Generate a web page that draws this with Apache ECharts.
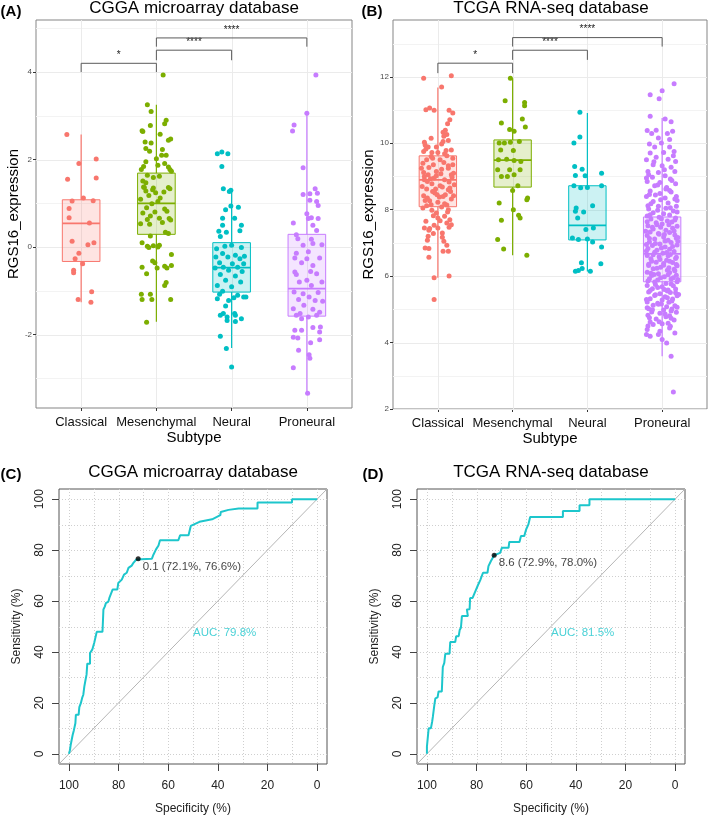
<!DOCTYPE html>
<html>
<head>
<meta charset="utf-8">
<script src="https://cdn.jsdelivr.net/npm/echarts@6/dist/echarts.min.js"></script>
<style>
  html, body { margin: 0; background: #fff; }
  #main { width: 709px; height: 815px; }
</style>
</head>
<body>
<div id="main"></div>
<script>
var FONT = '"Liberation Sans", Arial, sans-serif';

var subtypes = ['Classical', 'Mesenchymal', 'Neural', 'Proneural'];
var subtypeColors = ['#F8766D', '#7CAE00', '#00BFC4', '#C77CFF'];

// box stats per subtype: [lower whisker, Q1, median, Q3, upper whisker]
var boxCGGA = [
  [-1.26, -0.33, 0.54, 1.08, 2.57],
  [-1.71, 0.29, 1.00, 1.69, 3.25],
  [-2.31, -1.03, -0.47, 0.10, 1.33],
  [-3.34, -1.58, -0.95, 0.29, 3.05]
];
var boxTCGA = [
  [5.95, 8.09, 8.90, 9.62, 11.68],
  [6.63, 8.68, 9.49, 10.10, 11.96],
  [6.14, 7.09, 7.53, 8.72, 10.91],
  [3.59, 5.83, 6.67, 7.78, 10.76]
];

// jittered points: [offset from category, RGS16 expression]
var cggaClassical = [
  [-0.19,2.57],[-0.03,1.91],[0.20,2.01],[-0.18,1.55],[0.20,1.58],
  [-0.12,1.05],[0.03,1.12],[0.16,1.06],[-0.16,0.88],[-0.16,0.67],[0.11,0.55],
  [-0.12,0.13],[0.09,0.05],[0.17,0.10],[-0.03,-0.14],[-0.08,-0.27],[0.02,-0.38],
  [-0.10,-0.53],[-0.10,-0.59],[0.14,-1.02],[-0.04,-1.20],[0.13,-1.26]
];
var cggaMesenchymal = [
  [0.09,3.93],[-0.12,3.25],[-0.07,3.10],[0.13,2.90],[0.11,2.82],[-0.08,2.78],
  [-0.19,2.66],[-0.18,2.64],[0.05,2.58],[0.19,2.47],[0.16,2.44],[-0.15,2.40],
  [-0.07,2.38],[-0.14,2.25],[-0.09,2.19],[0.08,2.23],[0.07,2.10],[0.13,2.10],
  [0.00,2.02],[-0.14,1.95],[0.11,1.91],[-0.17,1.84],[0.02,1.87],[0.16,1.83],
  [0.18,1.77],[-0.20,1.77],[0.20,1.73],[-0.12,1.64],[-0.04,1.59],[0.04,1.62],
  [-0.18,1.51],[-0.14,1.47],[0.16,1.36],[-0.04,1.35],[-0.16,1.36],
  [-0.17,1.37],[-0.05,1.31],[0.18,1.33],[-0.14,1.28],[-0.01,1.24],[0.10,1.26],
  [-0.10,1.18],[0.05,1.12],[-0.21,1.09],[0.02,1.04],[-0.06,0.99],[-0.13,0.90],
  [0.11,0.87],[0.14,0.82],[-0.02,0.80],[-0.18,0.78],[-0.08,0.71],[0.17,0.65],
  [-0.12,0.63],[0.04,0.66],[0.19,0.62],[-0.09,0.52],[0.08,0.56],[-0.21,0.53],
  [0.12,0.34],[0.16,0.31],[-0.08,0.25],[-0.19,0.10],[-0.12,0.02],[0.02,0.00],
  [-0.04,0.03],[0.04,0.04],[-0.10,-0.01],[0.20,-0.17],[-0.05,-0.32],[-0.02,-0.36],
  [-0.19,-0.46],[0.11,-0.44],[0.14,-0.48],[0.20,-0.42],[0.01,-0.48],[-0.13,-0.61],
  [0.13,-0.81],[0.11,-0.88],[-0.20,-1.08],[-0.08,-1.08],[0.19,-1.20],[-0.19,-1.20],
  [-0.06,-1.20],[-0.13,-1.72]
];
var cggaNeural = [
  [-0.19,2.13],[-0.13,2.17],[-0.05,2.13],[-0.13,1.84],[-0.11,1.33],[-0.01,1.30],
  [-0.03,1.27],[-0.08,0.85],[-0.01,0.94],[0.09,0.91],[-0.12,0.66],[0.04,0.66],
  [-0.12,0.50],[0.13,0.50],[-0.17,0.36],[-0.07,0.34],[0.11,0.37],[-0.15,0.24],
  [-0.09,0.02],[0.00,0.04],[0.13,-0.01],[-0.20,-0.04],[-0.12,-0.15],[0.05,-0.19],
  [0.17,-0.21],[-0.21,-0.23],[-0.05,-0.23],[0.11,-0.27],[-0.16,-0.36],[0.01,-0.38],
  [0.16,-0.38],[-0.11,-0.46],[0.08,-0.46],[-0.22,-0.48],[-0.04,-0.53],[0.14,-0.56],
  [-0.15,-0.63],[0.05,-0.66],[-0.08,-0.76],[0.12,-0.80],[-0.19,-0.88],[0.00,-0.91],
  [-0.12,-1.01],[0.08,-1.10],[0.16,-1.14],[-0.19,-1.18],[-0.04,-1.22],[-0.16,-1.08],
  [0.03,-1.16],[0.19,-1.14],[-0.08,-1.35],[-0.11,-1.52],[0.04,-1.52],[-0.15,-1.56],
  [-0.06,-1.60],[0.05,-1.56],[0.13,-1.64],[-0.06,-1.68],[0.05,-1.70],[-0.15,-2.04],
  [-0.07,-2.32],[0.00,-2.74]
];
var cggaProneural = [
  [0.12,3.93],[0.00,3.06],[-0.17,2.79],[-0.19,2.65],[-0.05,1.81],[0.11,1.33],
  [-0.05,1.20],[0.04,1.22],[0.14,1.23],[0.13,1.04],[0.15,0.95],[0.04,1.07],
  [0.00,0.76],[0.06,0.67],[0.15,0.65],[0.02,0.65],[-0.18,0.55],[0.08,0.50],
  [0.13,0.38],[-0.14,0.28],[-0.12,0.19],[0.06,0.18],[0.08,0.08],[-0.05,0.04],
  [0.20,0.05],[0.02,-0.11],[-0.14,-0.14],[0.17,-0.25],[-0.16,-0.25],[0.00,-0.27],
  [-0.07,-0.36],[0.08,-0.42],[0.05,-0.56],[-0.16,-0.57],[-0.14,-0.63],[0.13,-0.61],
  [0.00,-0.76],[0.20,-0.80],[-0.10,-0.80],[0.06,-0.88],[-0.17,-1.03],[0.15,-1.04],
  [-0.05,-1.07],[0.03,-1.14],[-0.11,-1.20],[0.11,-1.22],[0.21,-1.24],[-0.04,-1.33],
  [-0.18,-1.41],[0.08,-1.42],[0.17,-1.49],[-0.09,-1.52],[-0.14,-1.56],[0.02,-1.60],
  [-0.07,-1.64],[0.13,-1.56],[0.08,-1.84],[0.18,-1.83],[-0.16,-1.90],[-0.07,-1.90],
  [0.17,-1.94],[-0.12,-2.08],[0.17,-2.12],[-0.18,-2.06],[0.05,-2.19],[-0.11,-2.36],
  [0.03,-2.46],[0.04,-2.54],[-0.18,-2.76],[0.01,-3.34]
];

var tcgaClassical = [
  [-0.19,11.96],[0.18,12.03],[0.05,11.69],[-0.16,11.01],[-0.11,11.06],[-0.05,10.99],
  [0.15,10.99],[0.20,10.91],[0.13,10.59],[0.16,10.71],[0.10,10.39],[0.07,10.33],
  [0.12,10.26],[0.08,10.21],[-0.18,10.03],[-0.09,10.15],[0.14,10.08],[-0.13,9.89],
  [-0.02,9.89],[0.05,9.98],[0.18,9.80],[-0.19,9.75],[-0.08,9.72],[0.09,9.68],
  [-0.15,9.50],[0.03,9.50],[0.20,9.55],[-0.06,9.35],[0.14,9.32],[-0.22,9.25],
  [0.05,9.22],[-0.13,9.05],[-0.02,9.02],[0.18,9.05],[-0.18,8.90],[0.09,8.90],
  [-0.08,8.78],[0.22,8.75],[0.03,8.72],[-0.15,8.62],[0.14,8.60],[-0.04,8.50],
  [-0.19,8.42],[0.07,8.40],[0.18,8.32],[-0.11,8.27],[0.00,8.22],[-0.15,8.12],
  [0.12,8.14],[0.05,8.08],[-0.08,7.98],[0.14,8.00],[-0.02,7.90],[0.09,7.80],
  [0.16,7.70],[-0.16,7.65],[0.03,7.67],[-0.05,7.53],[0.12,7.60],[-0.18,7.45],
  [-0.11,7.43],[0.00,7.45],[0.15,7.47],[-0.13,7.20],[0.06,7.17],[-0.06,7.28],
  [-0.14,7.08],[0.08,7.05],[0.12,6.93],[-0.17,6.85],[-0.12,6.83],[0.07,6.75],
  [0.14,6.75],[-0.12,6.57],[-0.05,5.95],[0.15,6.00],[-0.05,5.30],
  [-0.20,9.40],[0.21,9.10],[-0.14,8.85],[0.10,8.45],[-0.02,9.15],[0.17,8.55],
  [-0.09,9.60],[0.06,8.68],[-0.17,8.28],[0.12,9.62],[-0.05,8.95],[0.19,8.98],
  [-0.21,8.70],[0.02,8.38],[-0.12,9.27],[0.08,9.42],[-0.07,8.55],[0.15,8.83],
  [0.00,9.72],[-0.18,9.00],
  [-0.16,9.83],[0.11,9.78],[-0.07,9.55],[0.20,9.35],[-0.19,9.12],[0.04,9.08],
  [-0.10,8.93],[0.16,8.65],[-0.03,8.62],[0.21,8.42],[-0.14,8.35],[0.09,8.18],
  [-0.20,8.05],[0.13,7.93],[-0.06,7.82],[0.18,7.55],[-0.12,7.38],[0.06,7.30],
  [-0.17,9.95],[0.07,10.05],[-0.01,8.45],[0.14,9.25],[-0.09,8.15],[0.00,7.75]
];
var tcgaMesenchymal = [
  [-0.03,11.96],[-0.10,11.28],[0.16,11.23],[0.16,11.13],[-0.15,10.61],[0.13,10.73],
  [0.17,10.49],[-0.04,10.41],[0.02,10.36],[-0.18,10.01],[-0.11,10.01],[-0.03,10.03],
  [0.09,10.05],[-0.16,9.80],[0.01,9.78],[-0.19,9.50],[-0.08,9.52],[0.02,9.48],
  [0.11,9.45],[-0.20,9.20],[-0.04,9.20],[0.10,9.20],[-0.15,9.00],[-0.07,9.00],
  [0.02,9.05],[0.07,8.72],[0.00,8.58],[0.20,8.35],[-0.18,8.20],[0.19,8.30],
  [0.01,8.00],[0.08,7.83],[0.10,7.75],[-0.15,7.68],[-0.20,7.10],[-0.12,6.82],
  [0.19,6.63]
];
var tcgaNeural = [
  [-0.10,10.93],[-0.10,10.19],[-0.18,10.01],[-0.17,9.30],[-0.07,9.22],[-0.16,9.03],
  [-0.03,9.02],[0.19,9.10],[-0.18,8.72],[-0.09,8.66],[0.00,8.67],[0.19,8.72],
  [-0.15,8.05],[0.07,8.12],[-0.16,7.95],[-0.05,7.93],[-0.13,7.75],[-0.02,7.40],
  [0.08,7.45],[-0.20,7.15],[-0.12,7.10],[0.00,7.12],[0.07,7.03],[0.19,6.88],
  [-0.08,6.40],[0.18,6.37],[-0.16,6.15],[-0.12,6.17],[-0.07,6.23],[0.04,6.15]
];
var tcgaProneural = [
  [0.16,11.79],[-0.16,11.46],[0.00,11.58],[-0.04,11.34],[-0.16,10.81],[0.04,10.73],
  [0.12,10.65],[-0.20,10.38],[-0.08,10.39],[-0.14,10.29],[0.07,10.29],[0.14,10.36],
  [-0.05,10.16],[0.10,10.11],[-0.17,9.98],[-0.01,10.01],[-0.10,9.89],[0.10,9.89],
  [-0.16,9.71],[0.02,9.72],[0.16,9.75],[-0.08,9.58],[-0.21,9.50],[0.08,9.52],
  [0.18,9.45],[-0.12,9.35],[0.00,9.32],[0.12,9.28],[-0.19,9.15],[-0.05,9.12],
  [0.17,9.15],[0.04,9.02],[-0.13,8.98],[0.11,8.92],[-0.20,8.85],[-0.03,8.82],
  [0.18,8.78],[-0.10,8.72],[0.06,8.67],[-0.16,8.56],[0.12,8.53],[-0.03,8.49],
  [-0.21,8.40],[0.04,8.35],[0.17,8.32],[-0.12,8.25],[0.08,8.20],[-0.19,8.12],
  [-0.05,8.10],[0.19,8.10],
  [-0.18,8.02],[-0.06,7.98],[0.05,8.04],[0.15,7.96],[-0.12,7.91],[0.02,7.88],[0.20,7.93],
  [-0.20,7.81],[-0.04,7.77],[0.10,7.84],[-0.15,7.72],[0.07,7.66],[0.17,7.69],
  [-0.08,7.61],[0.00,7.57],[0.13,7.63],[-0.19,7.52],[-0.02,7.47],[0.20,7.50],
  [-0.12,7.42],[0.05,7.38],[0.14,7.44],[-0.16,7.33],[-0.05,7.28],[0.10,7.31],
  [-0.20,7.22],[0.02,7.18],[0.17,7.24],[-0.10,7.12],[0.08,7.08],[0.19,7.14],
  [-0.17,7.03],[-0.03,6.97],[0.12,7.01],[-0.13,6.92],[0.04,6.88],[0.20,6.94],
  [-0.19,6.83],[-0.07,6.78],[0.10,6.81],[-0.10,6.72],[0.01,6.69],[0.16,6.74],
  [-0.20,6.62],[-0.04,6.58],[0.08,6.61],[-0.15,6.52],[0.06,6.48],[0.18,6.53],
  [-0.08,6.42],[0.02,6.38],[0.14,6.41],[-0.18,6.32],[-0.02,6.27],[0.20,6.31],
  [-0.12,6.22],[0.07,6.18],[0.16,6.21],[-0.20,6.12],[-0.05,6.07],[0.10,6.11],
  [-0.14,6.02],[0.03,5.98],[0.19,6.03],[-0.17,5.92],[-0.06,5.88],[0.12,5.91],
  [-0.10,5.82],[0.05,5.78],[0.20,5.83],[-0.20,5.72],[0.00,5.68],[0.15,5.71],
  [-0.13,5.62],[0.08,5.58],[0.18,5.61],[-0.18,5.52],[-0.03,5.47],[0.11,5.51],
  [-0.10,5.42],[0.04,5.38],[0.20,5.41],[-0.16,5.32],[0.00,5.28],[0.14,5.31],
  [-0.20,5.22],[-0.06,5.18],[0.09,5.21],[-0.12,5.12],[0.06,5.08],[0.17,5.11],
  [-0.18,5.02],[0.02,4.98],[0.13,5.01],[-0.14,4.92],[-0.03,4.88],[0.19,4.91],
  [-0.19,4.82],[0.05,4.78],[0.10,4.81],[-0.08,4.71],[0.16,4.68],[-0.16,4.62],
  [0.00,4.57],[-0.12,4.54],[0.11,4.49],[0.10,4.44],[-0.20,4.39],[-0.03,4.34],
  [0.17,4.29],[-0.05,4.24],[-0.16,4.19],[-0.21,4.24],[0.00,4.09],[0.06,3.99],
  [0.12,3.59],[0.15,2.51],
  [-0.22,7.35],[0.21,7.05],[-0.01,6.85],[0.11,6.65],[-0.07,7.55],[0.18,7.75],
  [-0.14,6.45],[0.09,6.25],[-0.21,6.95],[0.03,7.25],[0.15,5.95],[-0.09,5.75],
  [0.22,5.45],[-0.05,5.15],[0.12,4.95],[-0.20,5.05],[0.07,5.55],[-0.11,6.05],
  [0.19,6.35],[-0.16,7.85],
  [-0.21,8.95],[0.05,8.62],[-0.09,8.44],[0.20,8.28],[-0.15,8.18],[0.11,8.06],
  [-0.01,7.73],[-0.20,7.64],[0.09,7.55],[-0.13,7.47],[0.16,7.36],[-0.04,7.26],
  [0.21,7.16],[-0.17,7.13],[0.04,7.06],[-0.09,6.98],[0.14,6.89],[-0.21,6.76],
  [0.06,6.71],[-0.12,6.64],[0.19,6.57],[-0.03,6.50],[0.10,6.45],[-0.18,6.36],
  [0.02,6.33],[-0.07,6.24],[0.17,6.16],[-0.15,6.09],[0.08,6.04],[-0.02,5.95],
  [0.21,5.90],[-0.19,5.85],[0.12,5.76],[-0.06,5.66],[0.03,5.60],[-0.16,5.57],
  [0.18,5.50],[-0.09,5.44],[0.07,5.35],[-0.21,5.30],[0.13,5.25],[-0.01,5.16],
  [0.20,5.06],[-0.13,4.99],[0.04,4.86],[-0.17,4.75],[0.12,4.73],[-0.04,4.63],
  [0.08,4.58],[-0.19,4.50],[0.15,9.62],[-0.11,9.44],[0.03,9.20],[-0.18,9.05],
  [0.13,8.88],[-0.06,8.74],[0.10,8.58],[-0.17,8.46],[0.19,8.40],[-0.02,8.30]
];

// significance brackets: category pairs, [leg bottom, bar] heights, labels
var bracketPairs = [[1, 2], [2, 3], [2, 4]];
var bracketCGGA = [[4.00, 4.20], [4.27, 4.50], [4.58, 4.78]];
var bracketTCGA = [[12.11, 12.41], [12.51, 12.80], [12.91, 13.18]];
var bracketLabels = ['*', '****', '****'];

// ROC curves: [specificity %, sensitivity %]
var rocCGGA = [
  [100,0],[99.6,1.4],[99.3,3.4],[98.9,5.4],[98.5,7.4],[98.0,9.3],[97.4,12.0],
  [97.2,15.3],[96.1,15.3],[95.8,18.3],[95.2,19.9],[94.6,22.2],[94.2,23.2],
  [93.8,26.4],[93.3,29.1],[92.9,31.1],[92.6,35.4],[91.5,35.4],[91.5,39.6],
  [90.6,40.9],[89.8,43.6],[89.1,44.2],[88.8,47.9],[86.5,47.9],[86.4,49.5],
  [86.1,56.7],[85.5,57.9],[85.1,59.2],[84.1,59.8],[83.7,61.2],[83.2,61.8],
  [82.4,64.5],[80.5,64.5],[80.1,67.1],[78.7,68.4],[77.8,70.4],[76.7,71.1],
  [76.0,73.0],[74.7,73.9],[74.0,75.0],[72.9,76.3],[72.1,76.6],[66.6,76.6],
  [65.9,78.3],[64.9,80.3],[63.9,81.8],[63.3,83.9],[55.9,83.9],[55.2,85.8],
  [51.8,85.8],[50.9,89.5],[47.4,91.1],[42.3,92.1],[39.0,93.7],[38.8,95.0],
  [35.7,95.8],[31.6,96.3],[24.0,96.3],[24.0,98.7],[10.1,98.7],[10.1,100],[0,100]
];
var rocTCGA = [
  [100,0],[100,2.8],[99.5,2.8],[99.3,10.0],[98.4,10.0],[97.9,12.6],[97.6,14.6],
  [97.0,19.2],[96.6,21.8],[95.7,22.2],[95.3,24.5],[94.0,24.5],[93.6,34.1],
  [93.0,35.7],[92.6,39.3],[90.9,39.3],[90.6,43.9],[88.6,43.9],[88.2,46.2],
  [87.2,46.2],[86.8,48.6],[86.3,49.5],[85.9,54.1],[83.5,54.1],[83.9,56.7],
  [82.8,56.8],[82.6,61.2],[81.6,61.2],[80.5,63.8],[79.5,66.1],[78.5,68.2],
  [77.4,71.1],[75.6,71.1],[75.2,73.7],[74.2,75.7],[73.4,76.1],[72.9,78.0],
  [70.5,78.9],[69.8,80.9],[67.1,80.9],[66.8,83.2],[62.7,83.2],[62.1,85.5],
  [60.8,85.5],[60.0,88.2],[59.1,90.1],[58.4,93.0],[45.2,93.0],[45.2,95.4],
  [38.5,95.4],[38.5,97.6],[34.5,97.6],[34.5,100],[0,100]
];
var bestCGGA = [72.1, 76.6], bestCGGALabel = '0.1 (72.1%, 76.6%)', aucCGGA = 'AUC: 79.8%';
var bestTCGA = [72.9, 78.0], bestTCGALabel = '8.6 (72.9%, 78.0%)', aucTCGA = 'AUC: 81.5%';

// axis ticks
var catTicks = [1, 2, 3, 4];
var yTicksCGGA = [-2, 0, 2, 4], yMinorCGGA = [-3, -1, 1, 3, 5];
var yTicksTCGA = [2, 4, 6, 8, 10, 12], yMinorTCGA = [3, 5, 7, 9, 11, 13];
var rocTicks = [0, 20, 40, 60, 80, 100];
var rocGrid = [0, 10, 20, 30, 40, 50, 60, 70, 80, 90, 100];
var rocLimits = [-4, 104];

var ROC_COLOR = '#1DC6CC';

function fade(hex, a) {
  var n = parseInt(hex.slice(1), 16);
  return 'rgba(' + (n >> 16) + ',' + ((n >> 8) & 255) + ',' + (n & 255) + ',' + a + ')';
}

// straight grid lines across a panel, snapped to pixel centres
function gridLines(gi, vals, dir, style) {
  return {
    type: 'custom', xAxisIndex: gi, yAxisIndex: gi, silent: true, z: 1, clip: false,
    data: vals.map(function (v) { return [v, v]; }),
    renderItem: function (params, api) {
      var cs = params.coordSys;
      var p = api.coord([api.value(0), api.value(1)]);
      var x = Math.round(p[0]) + 0.5, y = Math.round(p[1]) + 0.5;
      var shape = dir === 'h'
        ? { x1: cs.x, y1: y, x2: cs.x + cs.width, y2: y }
        : { x1: x, y1: cs.y, x2: x, y2: cs.y + cs.height };
      return { type: 'line', shape: shape, style: style };
    }
  };
}

function boxSeries(gi, stats) {
  return {
    type: 'custom', xAxisIndex: gi, yAxisIndex: gi, silent: true, z: 2,
    data: stats.map(function (s, i) { return [i + 1].concat(s); }),
    renderItem: function (params, api) {
      var k = api.value(0);
      var c = subtypeColors[k - 1];
      var lo = api.coord([k - 0.25, api.value(2)]);
      var hi = api.coord([k + 0.25, api.value(4)]);
      var wTop = api.coord([k, api.value(5)]);
      var wBot = api.coord([k, api.value(1)]);
      var med = api.coord([k, api.value(3)]);
      return {
        type: 'group', children: [
          { type: 'line', shape: { x1: wTop[0], y1: wTop[1], x2: wTop[0], y2: hi[1] }, style: { stroke: c, lineWidth: 1.2 } },
          { type: 'line', shape: { x1: wBot[0], y1: wBot[1], x2: wBot[0], y2: lo[1] }, style: { stroke: c, lineWidth: 1.2 } },
          { type: 'rect', shape: { x: lo[0], y: hi[1], width: hi[0] - lo[0], height: lo[1] - hi[1] },
            style: { fill: fade(c, 0.2), stroke: c, lineWidth: 1 } },
          { type: 'line', shape: { x1: lo[0], y1: med[1], x2: hi[0], y2: med[1] }, style: { stroke: c, lineWidth: 1.8 } }
        ]
      };
    }
  };
}

function pointSeries(gi, k, pts) {
  return {
    type: 'scatter', xAxisIndex: gi, yAxisIndex: gi, silent: true, z: 3,
    symbol: 'circle', symbolSize: 5,
    itemStyle: { color: subtypeColors[k - 1], opacity: 1 },
    data: pts.map(function (p) { return [k + p[0], p[1]]; })
  };
}

function bracketSeries(gi, levels) {
  return {
    type: 'custom', xAxisIndex: gi, yAxisIndex: gi, silent: true, z: 4, clip: false,
    data: bracketPairs.map(function (p, i) { return [p[0], p[1], levels[i][0], levels[i][1]]; }),
    renderItem: function (params, api) {
      var a = api.coord([api.value(0), api.value(2)]);
      var b = api.coord([api.value(0), api.value(3)]);
      var c = api.coord([api.value(1), api.value(3)]);
      var d = api.coord([api.value(1), api.value(2)]);
      return {
        type: 'group', children: [
          { type: 'polyline', shape: { points: [a, b, c, d] }, style: { stroke: '#5a5a5a', lineWidth: 1, fill: null } },
          { type: 'text', x: (b[0] + c[0]) / 2, y: b[1] - 3,
            style: { text: bracketLabels[params.dataIndex], fill: '#222', fontSize: 10, fontFamily: FONT,
                     align: 'center', verticalAlign: 'bottom' } }
        ]
      };
    }
  };
}

function catAxis(gi) {
  return {
    type: 'value', gridIndex: gi, min: 0.4, max: 4.6, name: 'Subtype',
    nameLocation: 'middle', nameGap: 22,
    nameTextStyle: { fontSize: 15, color: '#000', fontFamily: FONT },
    axisLine: { show: false, onZero: false }, splitLine: { show: false },
    axisTick: { customValues: catTicks, length: 3, lineStyle: { color: '#333' } },
    axisLabel: { customValues: catTicks, margin: 8, fontSize: 13, color: '#111', fontFamily: FONT,
                 formatter: function (v) { return subtypes[Math.round(v) - 1]; } }
  };
}

function exprAxis(gi, min, max, ticks) {
  return {
    type: 'value', gridIndex: gi, min: min, max: max, name: 'RGS16_expression',
    nameLocation: 'middle', nameGap: 15,
    nameTextStyle: { fontSize: 15, color: '#000', fontFamily: FONT },
    axisLine: { show: false, onZero: false }, splitLine: { show: false },
    axisTick: { customValues: ticks, length: 3, lineStyle: { color: '#333' } },
    axisLabel: { customValues: ticks, margin: 4, fontSize: 8, color: '#4d4d4d', fontFamily: FONT }
  };
}

function rocXAxis(gi) {
  return {
    type: 'value', gridIndex: gi, min: rocLimits[0], max: rocLimits[1], inverse: true,
    name: 'Specificity (%)', nameLocation: 'middle', nameGap: 39,
    nameTextStyle: { fontSize: 12, color: '#222', fontFamily: FONT },
    axisLine: { show: false, onZero: false }, splitLine: { show: false },
    axisTick: { customValues: rocTicks, length: 7, lineStyle: { color: '#444' } },
    axisLabel: { customValues: rocTicks, margin: 16, fontSize: 12, color: '#222', fontFamily: FONT }
  };
}

function rocYAxis(gi) {
  return {
    type: 'value', gridIndex: gi, min: rocLimits[0], max: rocLimits[1],
    name: 'Sensitivity (%)', nameLocation: 'middle', nameGap: 36,
    nameTextStyle: { fontSize: 12, color: '#222', fontFamily: FONT },
    axisLine: { show: false, onZero: false }, splitLine: { show: false },
    axisTick: { customValues: rocTicks, length: 7, lineStyle: { color: '#444' } },
    axisLabel: { customValues: rocTicks, margin: 13, rotate: 90, fontSize: 12, color: '#222', fontFamily: FONT }
  };
}

function rocSeries(gi, curve, best, bestLabel, auc) {
  var dotted = { stroke: '#cfcfcf', lineWidth: 1, lineDash: [1, 2] };
  return [
    gridLines(gi, rocGrid, 'h', dotted),
    gridLines(gi, rocGrid, 'v', dotted),
    {
      type: 'line', xAxisIndex: gi, yAxisIndex: gi, silent: true, z: 2, showSymbol: false, symbol: 'none',
      lineStyle: { color: '#b5b5b5', width: 1 },
      data: [[rocLimits[1], rocLimits[0]], [rocLimits[0], rocLimits[1]]]
    },
    {
      type: 'line', xAxisIndex: gi, yAxisIndex: gi, silent: true, z: 3, showSymbol: false, symbol: 'none',
      lineStyle: { color: ROC_COLOR, width: 2 },
      data: curve
    },
    {
      type: 'scatter', xAxisIndex: gi, yAxisIndex: gi, silent: true, z: 4, symbolSize: 5,
      itemStyle: { color: '#000' },
      label: { show: true, position: 'right', distance: 2, offset: [0, 8], formatter: bestLabel,
               fontSize: 11.5, color: '#111', fontFamily: FONT },
      data: [best]
    },
    {
      type: 'scatter', xAxisIndex: gi, yAxisIndex: gi, silent: true, z: 4, symbolSize: 0,
      label: { show: true, position: [0, 0], align: 'left', verticalAlign: 'top', formatter: auc,
               fontSize: 11.5, color: ROC_COLOR, fontFamily: FONT },
      data: [[50, 50]]
    }
  ];
}

function txt(x, y, s, size, bold) {
  return {
    type: 'text', x: x, y: y, silent: true,
    style: { text: s, fontSize: size, fontWeight: bold ? 'bold' : 'normal', fill: '#000',
             fontFamily: FONT, align: 'center', verticalAlign: 'middle' }
  };
}

var chart = echarts.init(document.getElementById('main'), null, { renderer: 'canvas' });

var gridLineMajor = { stroke: '#ebebeb', lineWidth: 1 };
var gridLineMinor = { stroke: '#f3f3f3', lineWidth: 1 };

var series = [].concat(
  gridLines(0, yMinorCGGA, 'h', gridLineMinor),
  gridLines(0, yTicksCGGA, 'h', gridLineMajor),
  gridLines(0, catTicks, 'v', gridLineMajor),
  boxSeries(0, boxCGGA),
  pointSeries(0, 1, cggaClassical),
  pointSeries(0, 2, cggaMesenchymal),
  pointSeries(0, 3, cggaNeural),
  pointSeries(0, 4, cggaProneural),
  bracketSeries(0, bracketCGGA),

  gridLines(1, yMinorTCGA, 'h', gridLineMinor),
  gridLines(1, yTicksTCGA, 'h', gridLineMajor),
  gridLines(1, catTicks, 'v', gridLineMajor),
  boxSeries(1, boxTCGA),
  pointSeries(1, 1, tcgaClassical),
  pointSeries(1, 2, tcgaMesenchymal),
  pointSeries(1, 3, tcgaNeural),
  pointSeries(1, 4, tcgaProneural),
  bracketSeries(1, bracketTCGA),

  rocSeries(2, rocCGGA, bestCGGA, bestCGGALabel, aucCGGA),
  rocSeries(3, rocTCGA, bestTCGA, bestTCGALabel, aucTCGA)
);

chart.setOption({
  animation: false,
  backgroundColor: '#fff',
  textStyle: { fontFamily: FONT },
  grid: [
    { left: 36, top: 20, width: 316, height: 388, show: true, borderColor: '#858585', borderWidth: 1, backgroundColor: '#fff', containLabel: false, outerBoundsMode: 'none' },
    { left: 393, top: 20, width: 314, height: 389, show: true, borderColor: '#858585', borderWidth: 1, backgroundColor: '#fff', containLabel: false, outerBoundsMode: 'none' },
    { left: 59, top: 489, width: 268, height: 275, show: true, borderColor: '#555', borderWidth: 1, backgroundColor: '#fff', containLabel: false, outerBoundsMode: 'none' },
    { left: 417, top: 489, width: 268, height: 275, show: true, borderColor: '#555', borderWidth: 1, backgroundColor: '#fff', containLabel: false, outerBoundsMode: 'none' }
  ],
  xAxis: [catAxis(0), catAxis(1), rocXAxis(2), rocXAxis(3)],
  yAxis: [
    exprAxis(0, -3.68, 5.19, yTicksCGGA),
    exprAxis(1, 2.0, 13.71, yTicksTCGA),
    rocYAxis(2),
    rocYAxis(3)
  ],
  graphic: [
    txt(11, 12, '(A)', 15, true),
    txt(194, 8, 'CGGA microarray database', 17),
    txt(372, 12, '(B)', 15, true),
    txt(551, 8, 'TCGA RNA-seq database', 17),
    txt(11, 475, '(C)', 15, true),
    txt(193, 472, 'CGGA microarray database', 17),
    txt(373, 475, '(D)', 15, true),
    txt(551, 472, 'TCGA RNA-seq database', 17)
  ],
  series: series
});
</script>
</body>
</html>
